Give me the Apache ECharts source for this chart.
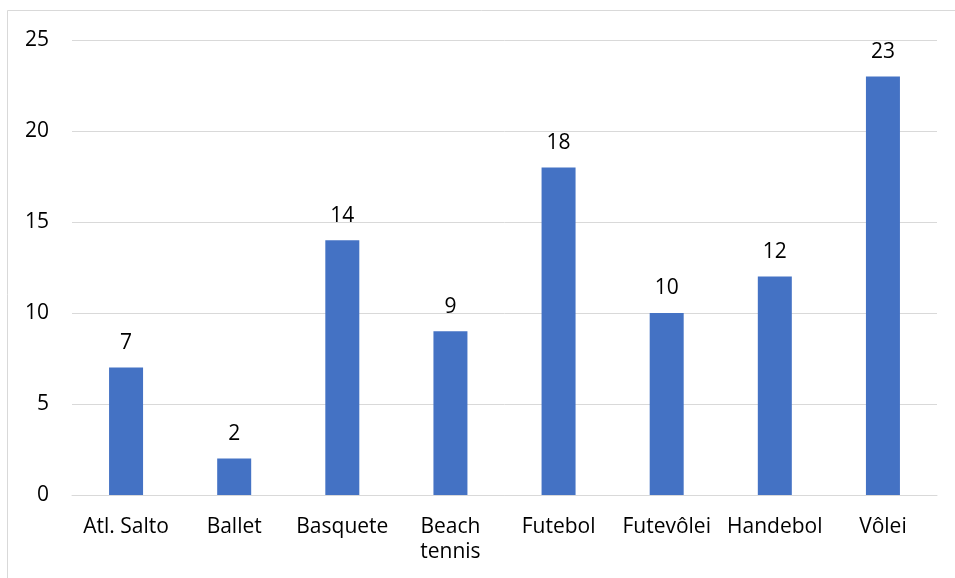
<!DOCTYPE html>
<html>
<head>
<meta charset="utf-8">
<script src="https://cdn.jsdelivr.net/npm/echarts@6/dist/echarts.min.js"></script>
<style>
  html, body { margin: 0; padding: 0; background: #fff; }
  #chart { width: 955px; height: 578px; }
</style>
</head>
<body>
<div id="chart"></div>
<script>
// Modalidades esportivas e número de participantes
const categories = ['Atl. Salto', 'Ballet', 'Basquete', 'Beach\ntennis', 'Futebol', 'Futevôlei', 'Handebol', 'Vôlei'];
const values = [7, 2, 14, 9, 18, 10, 12, 23];
const yTicks = [0, 5, 10, 15, 20, 25];

const FONT = '"Open Sans", "Liberation Sans", sans-serif';
const chart = echarts.init(document.getElementById('chart'));

chart.setOption({
  backgroundColor: '#ffffff',
  animation: false,
  graphic: [{
    type: 'rect',
    shape: { x: 7.5, y: 10.5, width: 960, height: 580 },
    style: { fill: 'none', stroke: '#d9d9d9', lineWidth: 1 },
    silent: true
  }],
  grid: { left: 72, right: 18, top: 40, bottom: 83, containLabel: false },
  xAxis: {
    type: 'category',
    data: categories,
    axisLine: { show: true, lineStyle: { color: '#d9d9d9', width: 1 } },
    axisTick: { show: false },
    axisLabel: {
      color: '#000000',
      fontFamily: FONT,
      fontSize: 21,
      lineHeight: 25,
      margin: 20,
      interval: 0
    }
  },
  yAxis: {
    type: 'value',
    min: yTicks[0],
    max: yTicks[yTicks.length - 1],
    interval: 5,
    axisLine: { show: false },
    axisTick: { show: false },
    splitLine: { lineStyle: { color: '#d9d9d9', width: 1 } },
    axisLabel: {
      color: '#000000',
      fontFamily: FONT,
      fontSize: 21,
      margin: 23
    }
  },
  series: [{
    type: 'bar',
    data: values,
    barWidth: 34,
    itemStyle: { color: '#4472C4' },
    label: {
      show: true,
      position: 'top',
      distance: 14,
      color: '#000000',
      fontFamily: FONT,
      fontSize: 21
    }
  }]
});
</script>
</body>
</html>
